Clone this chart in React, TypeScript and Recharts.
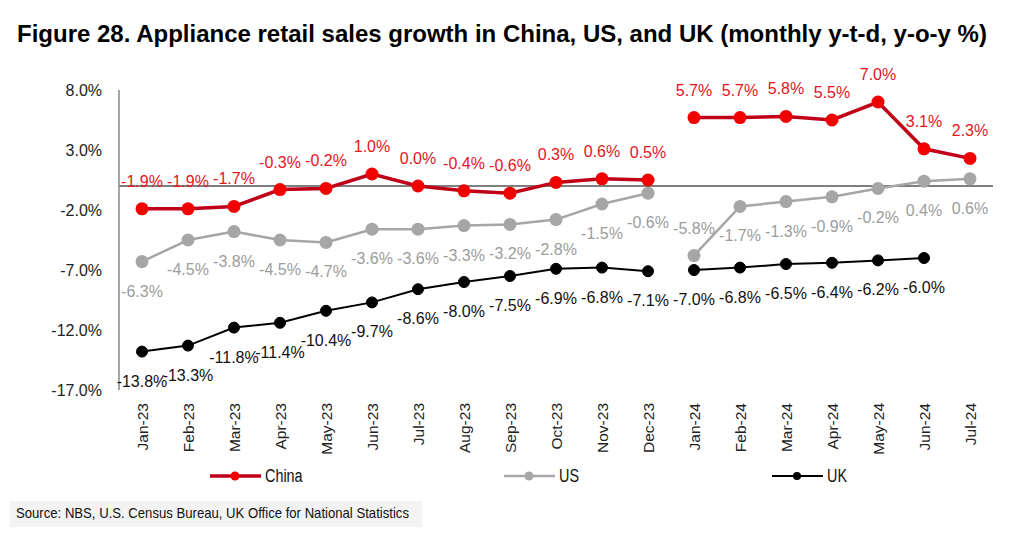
import React from 'react';
import { LineChart, Line, XAxis, YAxis, ReferenceLine, LabelList } from 'recharts';

const categories = ['Jan-23','Feb-23','Mar-23','Apr-23','May-23','Jun-23','Jul-23','Aug-23','Sep-23','Oct-23','Nov-23','Dec-23','Jan-24','Feb-24','Mar-24','Apr-24','May-24','Jun-24','Jul-24'];
const china: (number | null)[] = [-1.9,-1.9,-1.7,-0.3,-0.2,1.0,0.0,-0.4,-0.6,0.3,0.6,0.5,5.7,5.7,5.8,5.5,7.0,3.1,2.3];
const us: (number | null)[] = [-6.3,-4.5,-3.8,-4.5,-4.7,-3.6,-3.6,-3.3,-3.2,-2.8,-1.5,-0.6,-5.8,-1.7,-1.3,-0.9,-0.2,0.4,0.6];
const uk: (number | null)[] = [-13.8,-13.3,-11.8,-11.4,-10.4,-9.7,-8.6,-8.0,-7.5,-6.9,-6.8,-7.1,-7.0,-6.8,-6.5,-6.4,-6.2,-6.0,null];
const yTicks = [-17, -12, -7, -2, 3, 8];
const SPLIT = 12;

const data = categories.map((c, i) => ({
  cat: c,
  china23: i < SPLIT ? china[i] : null,
  china24: i >= SPLIT ? china[i] : null,
  us23: i < SPLIT ? us[i] : null,
  us24: i >= SPLIT ? us[i] : null,
  uk23: i < SPLIT ? uk[i] : null,
  uk24: i >= SPLIT ? uk[i] : null,
}));

const FONT = '"Liberation Sans", Arial, sans-serif';

const C_RED_LINE = '#C00018';
const C_RED_DOT = '#F20000';
const C_RED_TXT = '#E3141C';
const C_GRAY = '#A6A6A6';
const C_GRAY_TXT = '#9C9C9C';
const C_BLACK = '#000000';

const fmt = (v: number) => v.toFixed(1) + '%';

const makeLabel = (color: string, pos: (index: number) => 'top' | 'bottom') => (props: any) => {
  const { x, y, value, index } = props;
  if (value === null || value === undefined || x == null || y == null) return null;
  const p = pos(index);
  const ty = p === 'top' ? y - 22 : y + 35;
  return (
    <text x={x} y={ty} textAnchor="middle" fontSize={16} fill={color} fontFamily={FONT}>
      {fmt(Number(value))}
    </text>
  );
};

const chinaLabel = makeLabel(C_RED_TXT, () => 'top');
const usLabel = makeLabel(C_GRAY_TXT, (i) => (i === SPLIT ? 'top' : 'bottom'));
const ukLabel = makeLabel('#111', () => 'bottom');

const XTick = (props: any) => {
  const { x, y, payload } = props;
  return (
    <text
      x={x}
      y={y}
      transform={`rotate(-90, ${x}, ${y})`}
      textAnchor="end"
      dy="0.36em"
      fontSize={15.5}
      fill="#222"
      fontFamily={FONT}
    >
      {payload.value}
    </text>
  );
};

const LegendItem = ({ left, color, lineColor, r, sw, label }: any) => (
  <div style={{ position: 'absolute', left, top: 464, height: 24, display: 'flex', alignItems: 'center' }}>
    <svg width={54} height={24}>
      <line x1={1} y1={12} x2={52} y2={12} stroke={lineColor} strokeWidth={sw} />
      <circle cx={26} cy={12} r={r} fill={color} />
    </svg>
    <span style={{ fontFamily: FONT, fontSize: 18, color: '#111', marginLeft: 2, display: 'inline-block', transform: 'scaleX(0.8)', transformOrigin: 'left center' }}>{label}</span>
  </div>
);

export default function App() {
  return (
    <div style={{ position: 'absolute', left: 0, top: 0, width: 1024, height: 538, background: '#fff', overflow: 'hidden' }}>
      <div style={{ position: 'absolute', left: 17, top: 20, fontFamily: FONT, fontWeight: 'bold', fontSize: 24, color: '#000', whiteSpace: 'nowrap' }}>
        Figure 28. Appliance retail sales growth in China, US, and UK (monthly y-t-d, y-o-y %)
      </div>
      <div style={{ position: 'absolute', left: 0, top: 0 }}>
        <LineChart width={1024} height={470} data={data} margin={{ top: 90, right: 31, bottom: 0, left: 0 }} style={{ fontFamily: FONT }}>
          <XAxis
            dataKey="cat"
            interval={0}
            padding={{ left: 23, right: 23 }}
            axisLine={false}
            tickLine={false}
            height={80}
            tick={<XTick />}
            tickMargin={7}
          />
          <YAxis
            domain={[-17, 8]}
            ticks={yTicks}
            interval={0}
            width={119}
            tickLine={false}
            tickSize={0}
            tickMargin={17}
            axisLine={{ stroke: '#888', strokeWidth: 1.5 }}
            tick={{ fontSize: 16, fill: '#222', fontFamily: FONT }}
            tickFormatter={fmt}
          />
          <ReferenceLine y={0} stroke="#7F7F7F" strokeWidth={2} />
          <Line dataKey="uk23" stroke={C_BLACK} strokeWidth={2} dot={{ r: 5.5, fill: C_BLACK, stroke: C_BLACK, strokeWidth: 1 }} isAnimationActive={false} connectNulls={false}>
            <LabelList dataKey="uk23" content={ukLabel} />
          </Line>
          <Line dataKey="uk24" stroke={C_BLACK} strokeWidth={2} dot={{ r: 5.5, fill: C_BLACK, stroke: C_BLACK, strokeWidth: 1 }} isAnimationActive={false} connectNulls={false}>
            <LabelList dataKey="uk24" content={ukLabel} />
          </Line>
          <Line dataKey="us23" stroke={C_GRAY} strokeWidth={2.5} dot={{ r: 6.5, fill: C_GRAY, stroke: C_GRAY, strokeWidth: 0 }} isAnimationActive={false} connectNulls={false}>
            <LabelList dataKey="us23" content={usLabel} />
          </Line>
          <Line dataKey="us24" stroke={C_GRAY} strokeWidth={2.5} dot={{ r: 6.5, fill: C_GRAY, stroke: C_GRAY, strokeWidth: 0 }} isAnimationActive={false} connectNulls={false}>
            <LabelList dataKey="us24" content={usLabel} />
          </Line>
          <Line dataKey="china23" stroke={C_RED_LINE} strokeWidth={3.5} dot={{ r: 6.5, fill: C_RED_DOT, stroke: C_RED_DOT, strokeWidth: 0 }} isAnimationActive={false} connectNulls={false}>
            <LabelList dataKey="china23" content={chinaLabel} />
          </Line>
          <Line dataKey="china24" stroke={C_RED_LINE} strokeWidth={3.5} dot={{ r: 6.5, fill: C_RED_DOT, stroke: C_RED_DOT, strokeWidth: 0 }} isAnimationActive={false} connectNulls={false}>
            <LabelList dataKey="china24" content={chinaLabel} />
          </Line>
        </LineChart>
      </div>
      <LegendItem left={209} color={C_RED_DOT} lineColor={C_RED_LINE} r={4.5} sw={3.5} label="China" />
      <LegendItem left={503} color={C_GRAY} lineColor={C_GRAY} r={4.5} sw={2.5} label="US" />
      <LegendItem left={771} color={C_BLACK} lineColor={C_BLACK} r={4} sw={2} label="UK" />
      <div style={{ position: 'absolute', left: 10, top: 501, width: 412, height: 26, background: '#F3F3F3' }} />
      <div style={{ position: 'absolute', left: 16, top: 504, fontFamily: FONT, fontSize: 15, color: '#111', whiteSpace: 'nowrap', transform: 'scaleX(0.875)', transformOrigin: 'left center' }}>
        Source: NBS, U.S. Census Bureau, UK Office for National Statistics
      </div>
    </div>
  );
}
